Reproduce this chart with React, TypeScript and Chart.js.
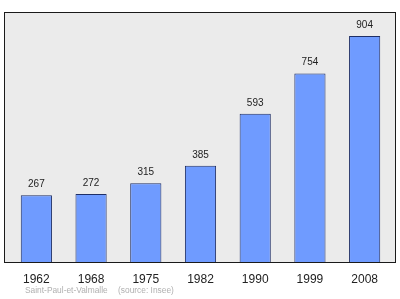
import React, { useEffect, useRef } from "react";
import { Chart, registerables } from "chart.js";

Chart.register(...registerables);

const years = ["1962", "1968", "1975", "1982", "1990", "1999", "2008"];
const population = [267, 272, 315, 385, 593, 754, 904];
const townName = "Saint-Paul-et-Valmalle";
const sourceText = "(source: Insee)";

const FONT = "'Liberation Sans', Arial, sans-serif";

const framePlugin = {
  id: "frame",
  beforeDraw(chart: any) {
    const { ctx, chartArea } = chart;
    ctx.save();
    const x0 = chartArea.left - 5 + 0.5;
    const x1 = chartArea.right + 3.5;
    const y0 = chartArea.top + 0.5;
    const y1 = chartArea.bottom + 0.5;
    ctx.fillStyle = "#ebebeb";
    ctx.fillRect(x0, y0, x1 - x0, y1 - y0);
    ctx.strokeStyle = "#1a1a1a";
    ctx.lineWidth = 1;
    ctx.strokeRect(x0, y0, x1 - x0, y1 - y0);
    ctx.restore();
  },
  afterDatasetsDraw(chart: any) {
    const { ctx } = chart;
    const meta = chart.getDatasetMeta(0);
    ctx.save();
    ctx.fillStyle = "#222";
    ctx.font = "10px " + FONT;
    ctx.textAlign = "center";
    ctx.textBaseline = "middle";
    meta.data.forEach((bar: any, i: number) => {
      ctx.fillText(String(population[i]), bar.x, bar.y - 11);
    });
    ctx.fillStyle = "#b0b0b0";
    ctx.font = "8.4px " + FONT;
    ctx.textAlign = "left";
    ctx.fillText(townName, 25, 291);
    ctx.fillText(sourceText, 118, 291);
    ctx.restore();
  },
};

export default function App() {
  const ref = useRef<HTMLCanvasElement>(null);
  useEffect(() => {
    if (!ref.current) return;
    const chart = new Chart(ref.current, {
      type: "bar",
      data: {
        labels: years,
        datasets: [
          {
            data: population,
            backgroundColor: "#6f9bff",
            borderColor: "#1f2f66",
            borderWidth: 1,
            categoryPercentage: 1,
            barPercentage: 0.57,
          },
        ],
      },
      options: {
        animation: false,
        responsive: false,
        events: [],
        layout: { padding: { left: 9, right: 8, top: 12, bottom: 0 } },
        plugins: { legend: { display: false }, tooltip: { enabled: false } },
        scales: {
          y: { display: false, min: 0, max: 1000 },
          x: {
            grid: { display: false },
            border: { display: false },
            ticks: {
              color: "#222",
              font: { size: 12, family: FONT },
              padding: 2,
              maxRotation: 0,
            },
            afterFit(scale: any) {
              scale.height = 37;
            },
          },
        },
      },
      plugins: [framePlugin],
    });
    return () => chart.destroy();
  }, []);
  return (
    <div style={{ position: "absolute", left: 0, top: 0, width: 400, height: 299, background: "#fff" }}>
      <canvas ref={ref} width={400} height={299} />
    </div>
  );
}
